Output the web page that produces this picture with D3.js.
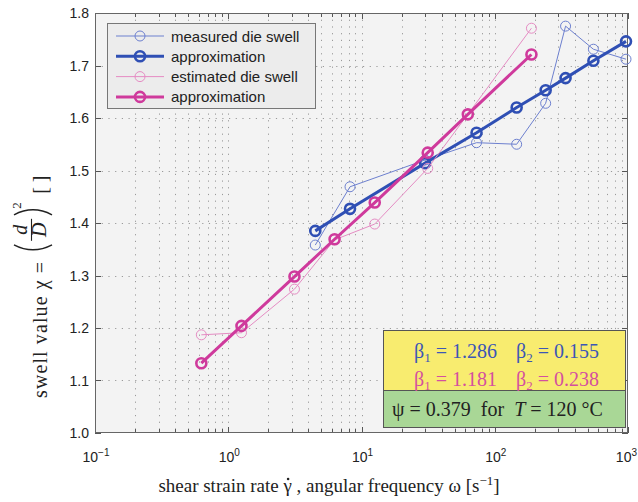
<!DOCTYPE html>
<html>
<head>
<meta charset="utf-8">
<script src="https://cdn.jsdelivr.net/npm/d3@7"></script>
<style>
  body { margin: 0; background: #fff; }
  svg { display: block; }
  text { white-space: pre; }
</style>
</head>
<body>
<div id="chart"></div>
<script>
// measured die swell + its approximation (same shear rates)
const rateMeasured = [4.5, 8.2, 30, 73, 146, 241, 340, 550, 966];
const swellMeasured = [1.358, 1.469, 1.52, 1.553, 1.550, 1.628, 1.775, 1.731, 1.712];
const swellMeasuredApprox = [1.385, 1.427, 1.514, 1.572, 1.620, 1.653, 1.676, 1.709, 1.746];

// estimated die swell + approximation (angular frequencies)
const freqEstimated = [0.628, 1.257, 3.14, 6.28, 12.57, 31.4, 62.8, 188.5];
const swellEstimated = [1.187, 1.191, 1.274, 1.368, 1.398, 1.504, 1.607, 1.771];
const swellEstimatedApprox = [1.133, 1.204, 1.298, 1.369, 1.439, 1.534, 1.607, 1.721];

const legendLabels = ["measured die swell", "approximation", "estimated die swell", "approximation"];
const yTicks = [1.0, 1.1, 1.2, 1.3, 1.4, 1.5, 1.6, 1.7, 1.8];
const xTickExp = [-1, 0, 1, 2, 3];

const W = 638, H = 502;
const margin = { left: 95, top: 13, right: 10, bottom: 69 };
const pw = W - margin.left - margin.right;
const ph = H - margin.top - margin.bottom;

const blue = "#2f4fb4", blueLight = "#6d80cf";
const pink = "#cf3a9c", pinkLight = "#e58cc3";

const svg = d3.select("#chart").append("svg")
  .attr("width", W).attr("height", H);

const x = d3.scaleLog().domain([0.1, 1000]).range([margin.left, margin.left + pw]);
const y = d3.scaleLinear().domain([1.0, 1.8]).range([margin.top + ph, margin.top]);

// plot background
svg.append("rect")
  .attr("x", margin.left).attr("y", margin.top)
  .attr("width", pw).attr("height", ph)
  .attr("fill", "#f3f3f3");

// grid
const minorX = [];
for (let e = -1; e < 3; e++) for (let m = 1; m < 10; m++) minorX.push(m * Math.pow(10, e));
minorX.push(1000);

const grid = svg.append("g").attr("stroke", "#9a9a9a").attr("stroke-width", 1)
  .attr("stroke-dasharray", "1.2,5.5");
grid.selectAll("line.vx").data(minorX.slice(1, -1)).join("line")
  .attr("x1", d => Math.round(x(d)) + 0.5).attr("x2", d => Math.round(x(d)) + 0.5)
  .attr("y1", margin.top).attr("y2", margin.top + ph);
grid.selectAll("line.hy").data(yTicks.slice(1, -1)).join("line")
  .attr("y1", d => Math.round(y(d)) + 0.5).attr("y2", d => Math.round(y(d)) + 0.5)
  .attr("x1", margin.left).attr("x2", margin.left + pw);

// ticks (inside, all four sides)
const tk = svg.append("g").attr("stroke", "#555").attr("stroke-width", 1);
minorX.forEach(d => {
  const isMajor = Math.abs(Math.log10(d) - Math.round(Math.log10(d))) < 1e-9;
  const len = isMajor ? 6 : 4;
  const xx = Math.round(x(d)) + 0.5;
  tk.append("line").attr("x1", xx).attr("x2", xx).attr("y1", margin.top + ph).attr("y2", margin.top + ph - len);
  tk.append("line").attr("x1", xx).attr("x2", xx).attr("y1", margin.top).attr("y2", margin.top + len);
});
yTicks.forEach(d => {
  const yy = Math.round(y(d)) + 0.5;
  tk.append("line").attr("x1", margin.left).attr("x2", margin.left + 6).attr("y1", yy).attr("y2", yy);
  tk.append("line").attr("x1", margin.left + pw).attr("x2", margin.left + pw - 6).attr("y1", yy).attr("y2", yy);
});

// frame
svg.append("rect")
  .attr("x", margin.left + 0.5).attr("y", margin.top + 0.5)
  .attr("width", pw - 1).attr("height", ph - 1)
  .attr("fill", "none").attr("stroke", "#666").attr("stroke-width", 1);

// tick labels
const sans = "Liberation Sans, Arial, Helvetica, sans-serif";
svg.append("g").selectAll("text").data(yTicks).join("text")
  .attr("x", margin.left - 6).attr("y", d => y(d) + 5)
  .attr("text-anchor", "end").attr("font-family", sans).attr("font-size", 14)
  .attr("fill", "#222").text(d => d.toFixed(1));

const xl = svg.append("g").attr("font-family", sans).attr("fill", "#222");
xTickExp.forEach((e, i) => {
  const last = i === xTickExp.length - 1;
  const t = xl.append("text").attr("x", last ? W - 1 : x(Math.pow(10, e)) + 1).attr("y", 462)
    .attr("text-anchor", last ? "end" : "middle").attr("font-size", 14);
  t.append("tspan").text("10");
  t.append("tspan").attr("dy", -6).attr("font-size", 10).text(e < 0 ? "\u2212" + Math.abs(e) : e);
});

// series
const line = d3.line().x(d => x(d[0])).y(d => y(d[1]));
function series(xs, ys, color, lw, r, sw) {
  const pts = xs.map((v, i) => [v, ys[i]]);
  const g = svg.append("g");
  g.append("path").datum(pts).attr("d", line)
    .attr("fill", "none").attr("stroke", color).attr("stroke-width", lw)
    .attr("stroke-linejoin", "round");
  g.selectAll("circle").data(pts).join("circle")
    .attr("cx", d => x(d[0])).attr("cy", d => y(d[1])).attr("r", r)
    .attr("fill", "none").attr("stroke", color).attr("stroke-width", sw);
}
series(rateMeasured, swellMeasured, blueLight, 1, 5, 1);
series(rateMeasured, swellMeasuredApprox, blue, 3, 5, 2.6);
series(freqEstimated, swellEstimated, pinkLight, 1, 5, 1);
series(freqEstimated, swellEstimatedApprox, pink, 3, 5, 2.6);

// legend
const lg = svg.append("g");
lg.append("rect").attr("x", 107.5).attr("y", 23.5).attr("width", 208).attr("height", 85)
  .attr("fill", "#ececec").attr("stroke", "#777").attr("stroke-width", 1);
const legendStyle = [
  { c: blueLight, lw: 1, sw: 1 },
  { c: blue, lw: 3, sw: 2.6 },
  { c: pinkLight, lw: 1, sw: 1 },
  { c: pink, lw: 3, sw: 2.6 }
];
legendLabels.forEach((lab, i) => {
  const yy = 36 + i * 20.3;
  const s = legendStyle[i];
  lg.append("line").attr("x1", 116).attr("x2", 164).attr("y1", yy).attr("y2", yy)
    .attr("stroke", s.c).attr("stroke-width", s.lw);
  lg.append("circle").attr("cx", 140).attr("cy", yy).attr("r", 5)
    .attr("fill", "none").attr("stroke", s.c).attr("stroke-width", s.sw);
  lg.append("text").attr("x", 171).attr("y", yy + 5.5)
    .attr("font-family", sans).attr("font-size", 15).attr("fill", "#222").text(lab);
});

// parameter boxes
const serif = "Liberation Serif, Times New Roman, serif";
const bx = svg.append("g").attr("font-family", serif);
bx.append("rect").attr("x", 383.5).attr("y", 330.5).attr("width", 242).attr("height", 60)
  .attr("fill", "#f8ec6f").attr("stroke", "#555");
bx.append("rect").attr("x", 383.5).attr("y", 390.5).attr("width", 242).attr("height", 37)
  .attr("fill", "#a9d796").attr("stroke", "#555");

const params = [
  { b1: "1.286", b2: "0.155", c: "#3c56b6", yy: 358 },
  { b1: "1.181", b2: "0.238", c: "#d4509f", yy: 386 }
];
params.forEach(p => {
  [[414, "1", p.b1], [516, "2", p.b2]].forEach(([xx, sub, val]) => {
    const t = bx.append("text").attr("x", xx).attr("y", p.yy).attr("font-size", 20).attr("fill", p.c);
    t.append("tspan").text("\u03b2");
    t.append("tspan").attr("font-size", 13).attr("dy", 4).text(sub);
    t.append("tspan").attr("dy", -4).text(" = " + val);
  });
});
const pt = bx.append("text").attr("x", 392).attr("y", 416).attr("font-size", 20).attr("fill", "#222");
pt.append("tspan").text("\u03c8 = 0.379  for  ");
pt.append("tspan").attr("font-style", "italic").text("T");
pt.append("tspan").text(" = 120 \u00b0C");

// x axis label
const xlab = svg.append("text").attr("x", 329).attr("y", 492).attr("text-anchor", "middle")
  .attr("font-family", serif).attr("font-size", 19).attr("fill", "#222");
xlab.append("tspan").text("shear strain rate \u03b3 , angular frequency \u03c9 [s");
xlab.append("tspan").attr("dy", -7).attr("font-size", 13).text("\u22121");
xlab.append("tspan").attr("dy", 7).text("]");
// dot over gamma (time derivative)
const gIdx = "shear strain rate ".length;
const gBox = xlab.node().getExtentOfChar(gIdx);
svg.append("circle").attr("cx", gBox.x + gBox.width / 2 + 0.5).attr("cy", gBox.y + 4)
  .attr("r", 1.3).attr("fill", "#222");

// y axis label (rotated, reads bottom to top)
const yl = svg.append("g").attr("transform", "translate(47,398) rotate(-90)")
  .attr("font-family", serif).attr("font-size", 20).attr("fill", "#222");
const ylt = yl.append("text").attr("x", 0).attr("y", 0).attr("letter-spacing", 1.1)
  .text("swell value \u03c7 =");
let cx = ylt.node().getComputedTextLength() + 8;
yl.append("path").attr("d", `M${cx + 8},-33 Q${cx - 2},-14 ${cx + 8},5`)
  .attr("fill", "none").attr("stroke", "#222").attr("stroke-width", 1.5);
cx += 12;
const fw = 22;
yl.append("text").attr("x", cx + fw / 2).attr("y", -20).attr("text-anchor", "middle")
  .attr("font-style", "italic").text("d");
yl.append("line").attr("x1", cx).attr("x2", cx + fw).attr("y1", -15.5).attr("y2", -15.5)
  .attr("stroke", "#222").attr("stroke-width", 1.1);
yl.append("text").attr("x", cx + fw / 2).attr("y", -1).attr("text-anchor", "middle")
  .attr("font-style", "italic").text("D");
cx += fw + 4;
yl.append("path").attr("d", `M${cx},-33 Q${cx + 10},-14 ${cx},5`)
  .attr("fill", "none").attr("stroke", "#222").attr("stroke-width", 1.5);
cx += 6;
yl.append("text").attr("x", cx).attr("y", -26).attr("font-size", 13).text("2");
cx += 15;
yl.append("text").attr("x", cx).attr("y", 0).text("[ ]");
</script>
</body>
</html>
